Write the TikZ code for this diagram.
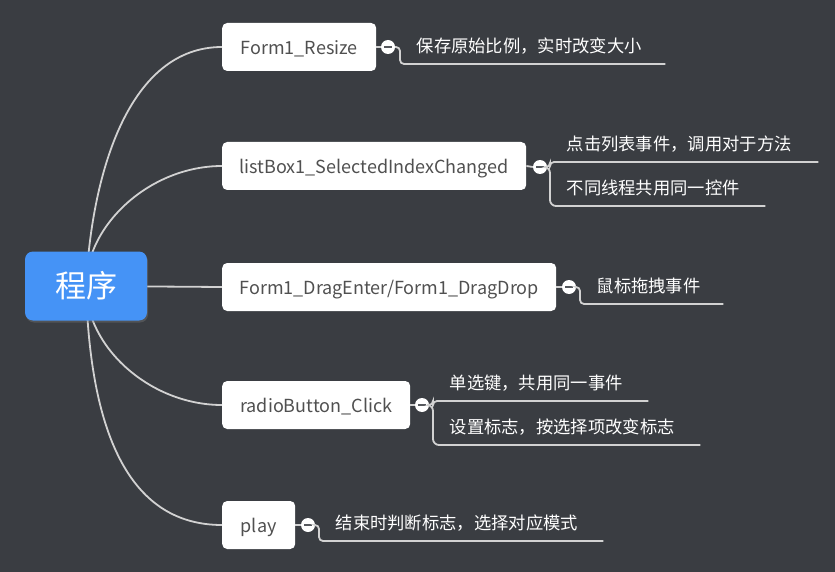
\documentclass[tikz,border=0pt]{standalone}
\usepackage{fontspec}
\setmainfont{Noto Sans CJK SC}
\usetikzlibrary{shadows}
\definecolor{bgc}{HTML}{3A3D42}
\definecolor{linec}{HTML}{D2D2D2}
\definecolor{rootc}{HTML}{4593F6}
\definecolor{txtc}{HTML}{505050}
\definecolor{minusc}{HTML}{55585D}
\tikzset{
  conn/.style={draw=linec, line width=1.8pt},
  rootbox/.style={fill=rootc, rounded corners=8pt, minimum width=122pt, minimum height=69pt, text=white, font=\fontsize{31}{33}\selectfont, inner sep=0pt},
  branch/.style={fill=white, rounded corners=5pt, minimum height=48pt, text=txtc, font=\fontsize{18}{20}\selectfont, inner sep=0pt, text height=17.5pt, text depth=2pt, anchor=west},
  collapse/.style={circle, fill=white, minimum size=14pt, inner sep=0pt,
    path picture={\draw[minusc, line width=1.6pt] ([xshift=-4pt]path picture bounding box.center) -- ([xshift=4pt]path picture bounding box.center);}},
  leaf/.style={anchor=south west, text=white, font=\fontsize{17.3}{19}\selectfont, inner xsep=16.5pt, inner ysep=7pt, text height=13pt, text depth=4pt, align=left},
}
\begin{document}
\begin{tikzpicture}[x=1pt,y=-1pt]
\fill[bgc] (0,0) rectangle (835,572);
\useasboundingbox (0,0) rectangle (835,572);

% branch nodes
\node[branch, minimum width=154pt] (b1) at (222,47) {Form1\_Resize};
\node[branch, minimum width=304pt] (b2) at (222,166) {listBox1\_SelectedIndexChanged};
\node[branch, minimum width=334pt] (b3) at (222,287) {Form1\_DragEnter/Form1\_DragDrop};
\node[branch, minimum width=188pt] (b4) at (222,405) {radioButton\_Click};
\node[branch, minimum width=73pt] (b5) at (222,525) {play};

\coordinate (rc) at (86,286);
% root curves (behind root)
\draw[conn] (rc) .. controls (92,170) and (130,47) .. (b1.west);
\draw[conn] (rc) .. controls (86,225) and (150,166) .. (b2.west);
\draw[conn] (rc) -- (b3.west);
\draw[conn] (rc) .. controls (86,347) and (150,405) .. (b4.west);
\draw[conn] (rc) .. controls (90,440) and (133,525) .. (b5.west);

\node[rootbox, drop shadow={opacity=0.35, shadow xshift=1pt, shadow yshift=-2pt}] (root) at (rc) {程序};

% collapse icons
\node[collapse] (c1) at (388,47) {};
\node[collapse] (c2) at (540,167) {};
\node[collapse] (c3) at (569,287) {};
\node[collapse] (c4) at (422,405) {};
\node[collapse] (c5) at (308,525) {};

\draw[conn] (b1.east) -- (c1.west);
\draw[conn] (b2.east) -- (c2.west);
\draw[conn] (b3.east) -- (c3.west);
\draw[conn] (b4.east) -- (c4.west);
\draw[conn] (b5.east) -- (c5.west);

% leaves
\node[leaf, text width=232pt] (l1) at (400,64) {保存原始比例，实时改变大小};
\node[leaf, text width=235pt] (l2a) at (550,162) {点击列表事件，调用对于方法};
\node[leaf, text width=182pt] (l2b) at (550,206) {不同线程共用同一控件};
\node[leaf, text width=110pt] (l3) at (580,304) {鼠标拖拽事件};
\node[leaf, text width=182pt] (l4a) at (433,401) {单选键，共用同一事件};
\node[leaf, text width=234pt] (l4b) at (433,445) {设置标志，按选择项改变标志};
\node[leaf, text width=251pt] (l5) at (319,541) {结束时判断标志，选择对应模式};

\draw[conn, rounded corners=4pt] (c1.east) -| (l1.south west) -- (l1.south east);
\draw[conn, rounded corners=4pt] (c2.east) -| (l2a.south west) -- (l2a.south east);
\draw[conn, rounded corners=6pt] (c2.east) -| (l2b.south west) -- (l2b.south east);
\draw[conn, rounded corners=4pt] (c3.east) -| (l3.south west) -- (l3.south east);
\draw[conn, rounded corners=4pt] (c4.east) -| (l4a.south west) -- (l4a.south east);
\draw[conn, rounded corners=6pt] (c4.east) -| (l4b.south west) -- (l4b.south east);
\draw[conn, rounded corners=4pt] (c5.east) -| (l5.south west) -- (l5.south east);
\end{tikzpicture}
\end{document}
